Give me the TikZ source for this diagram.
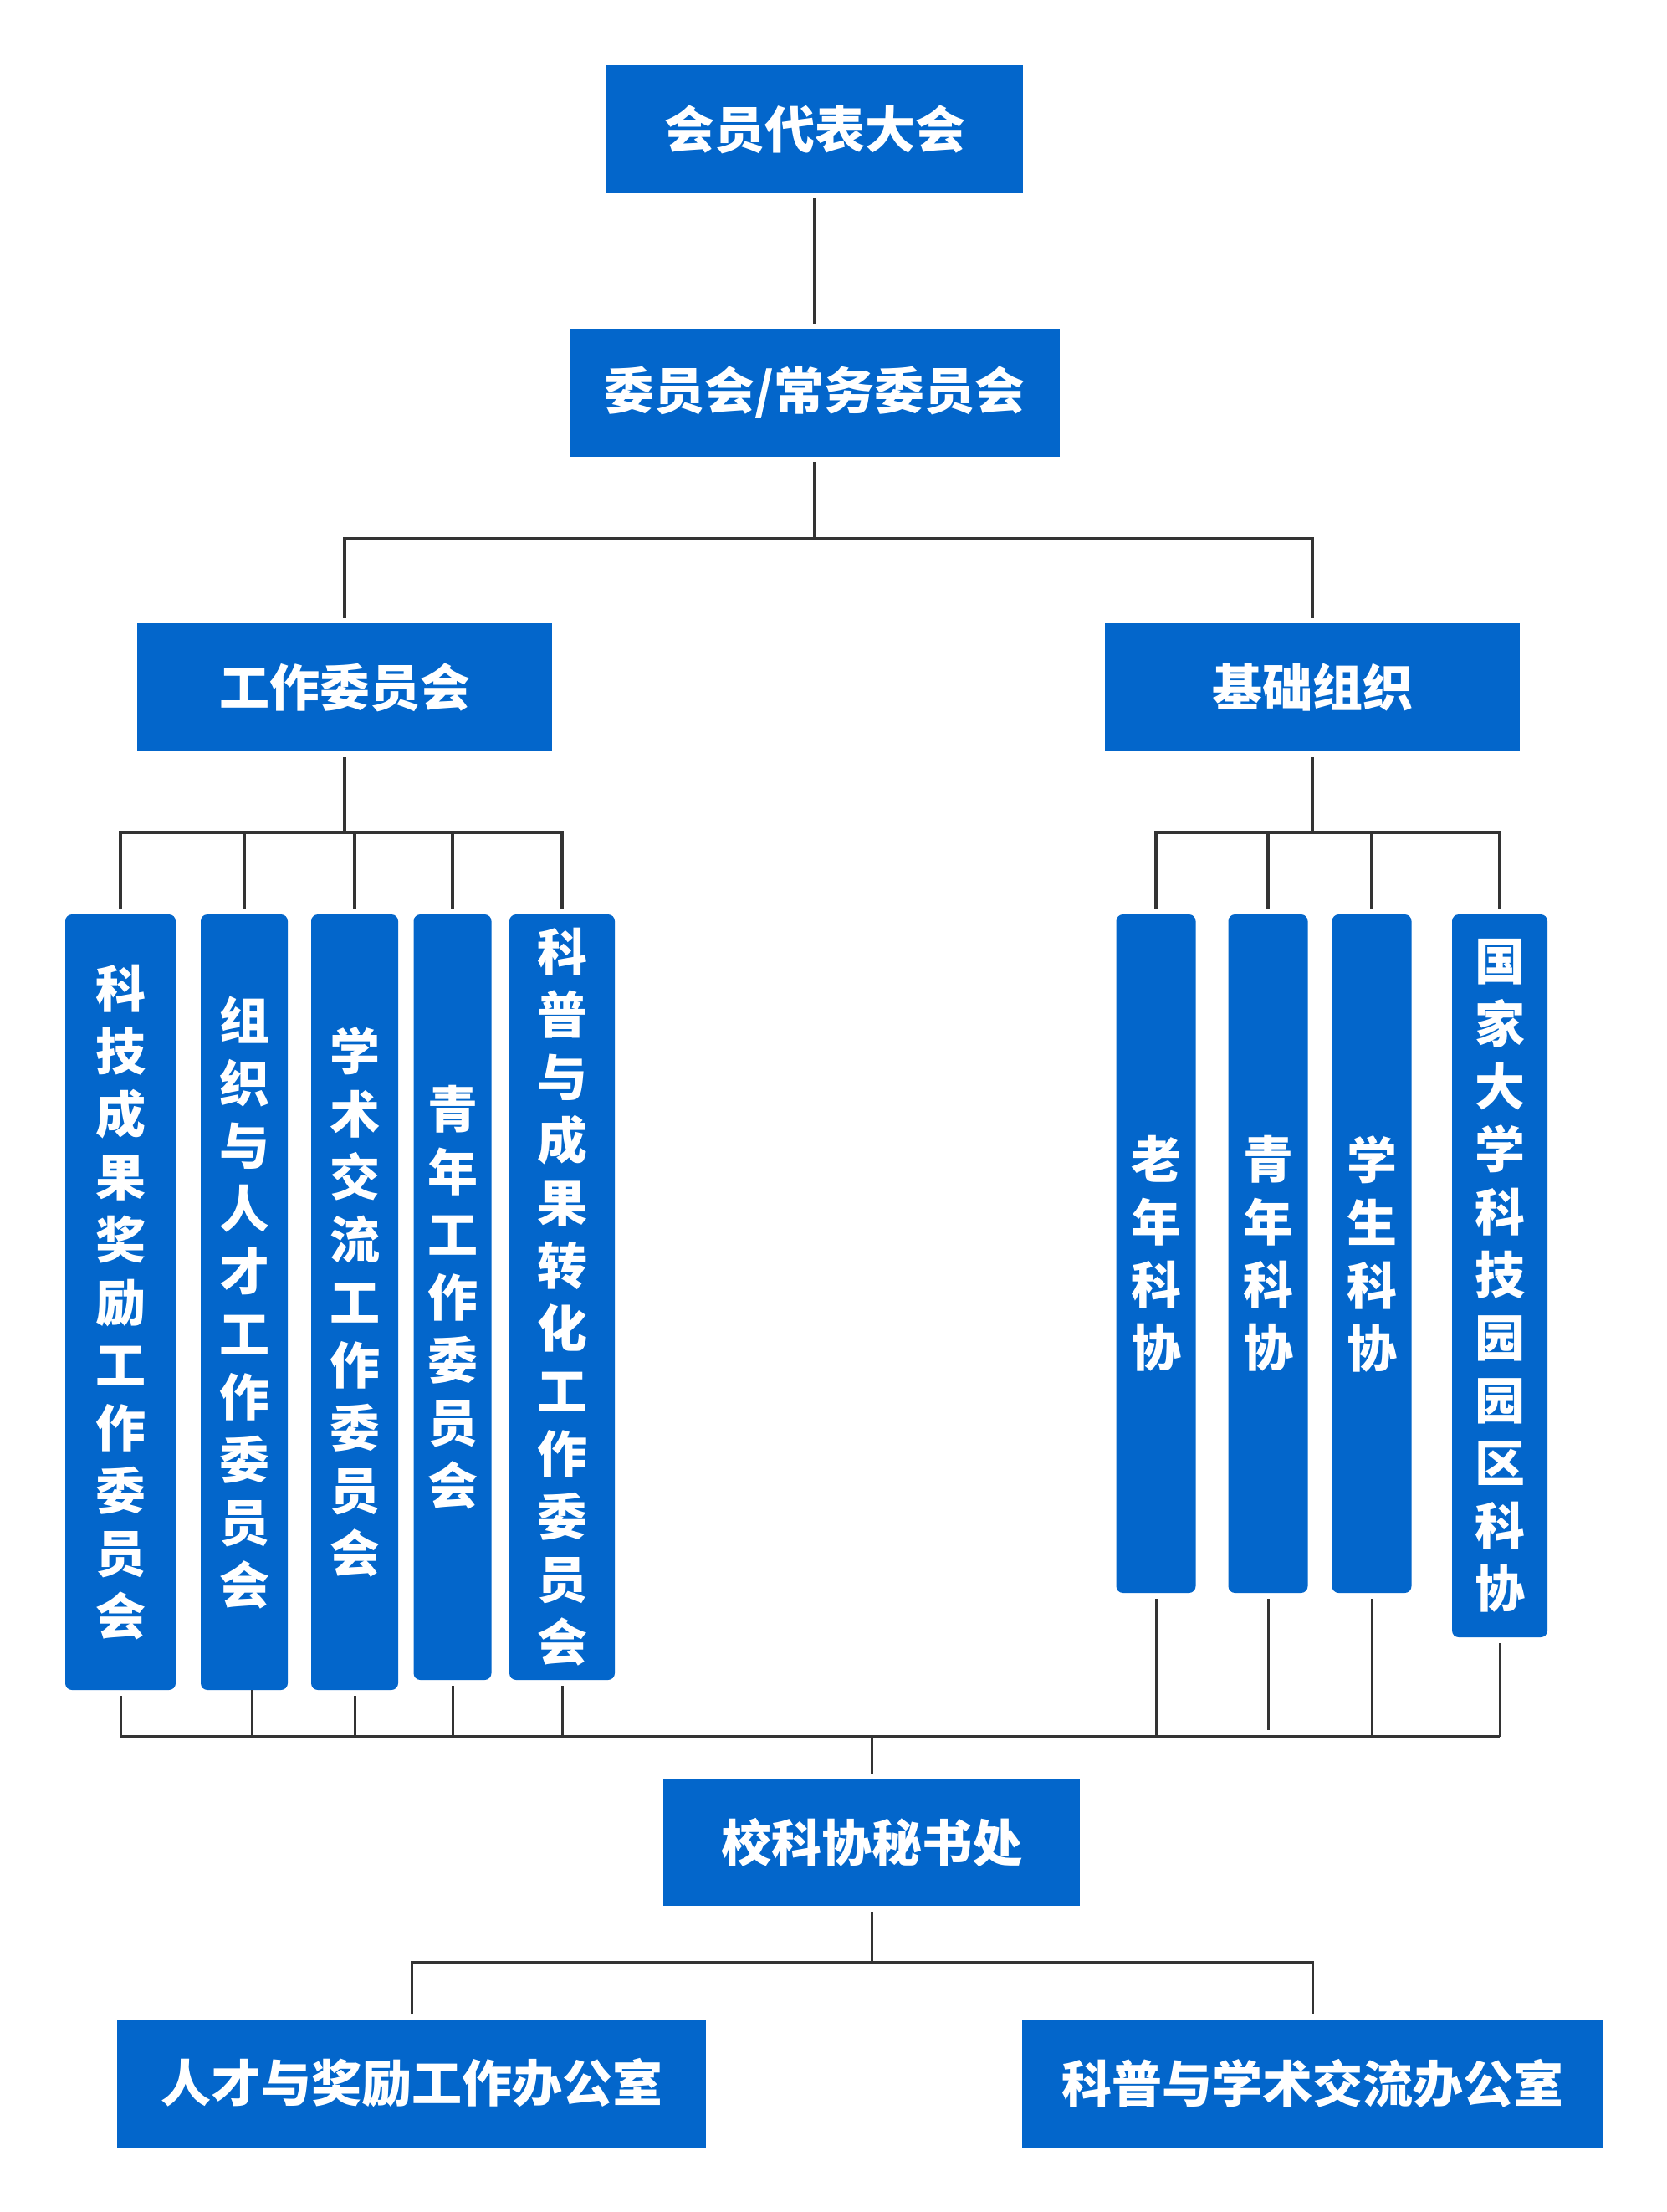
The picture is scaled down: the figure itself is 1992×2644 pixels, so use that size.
\documentclass[tikz,border=0pt]{standalone}
\usepackage{fontspec}
\newfontfamily\cjk{Noto Sans CJK SC}
\definecolor{boxblue}{RGB}{3,102,203}
\definecolor{linegray}{RGB}{51,51,51}
\tikzset{
  hbox/.style={fill=boxblue, text=white, inner sep=0pt, font=\cjk\bfseries\fontsize{30}{36}\selectfont},
  vbox/.style={fill=boxblue, text=white, inner sep=0pt, rounded corners=4pt, align=center, font=\cjk\bfseries\fontsize{30}{37.5}\selectfont},
  sz/.style 2 args={minimum width=#1*0.5pt, minimum height=#2*0.5pt},
  conn/.style={draw=linegray, line width=2.2pt},
  busline/.style={draw=linegray, line width=2pt},
  connthin/.style={draw=linegray, line width=1.5pt},
  gap/.style={shorten <=3pt, shorten >=3pt},
}
\begin{document}
\begin{tikzpicture}[x=0.5pt,y=-0.5pt]
\useasboundingbox[fill=white] (0,0) rectangle (1992,2644);
% top level
\node[hbox, sz={498}{153}] (a) at (974,154.5) {会员代表大会};
\node[hbox, sz={586}{153}] (b) at (974,469.5) {委员会/常务委员会};
\node[hbox, sz={496}{153}] (c) at (412,821.5) {工作委员会};
\node[hbox, sz={496}{153}] (d) at (1569,821.5) {基础组织};
% left vertical boxes
\node[vbox, sz={132}{927}] (w1) at (144,1556.5) {科\\技\\成\\果\\奖\\励\\工\\作\\委\\员\\会};
\node[vbox, sz={104}{927}] (w2) at (292,1556.5) {组\\织\\与\\人\\才\\工\\作\\委\\员\\会};
\node[vbox, sz={104}{927}] (w3) at (424,1556.5) {学\\术\\交\\流\\工\\作\\委\\员\\会};
\node[vbox, sz={93}{915}] (w4) at (541,1550.5) {青\\年\\工\\作\\委\\员\\会};
\node[vbox, sz={126}{915}] (w5) at (672,1550.5) {科\\普\\与\\成\\果\\转\\化\\工\\作\\委\\员\\会};
% right vertical boxes
\node[vbox, sz={95}{811}] (j1) at (1382,1498.5) {老\\年\\科\\协};
\node[vbox, sz={95}{811}] (j2) at (1516,1498.5) {青\\年\\科\\协};
\node[vbox, sz={95}{811}] (j3) at (1640,1498.5) {学\\生\\科\\协};
\node[vbox, sz={114}{864}] (j4) at (1793,1525) {国\\家\\大\\学\\科\\技\\园\\园\\区\\科\\协};
% lower boxes
\node[hbox, sz={498}{152}] (s) at (1042,2202) {校科协秘书处};
\node[hbox, sz={704}{153}] (e) at (492,2490) {人才与奖励工作办公室};
\node[hbox, sz={694}{153}] (f) at (1569,2490) {科普与学术交流办公室};
% bus coordinates
\coordinate (t1) at (974,644);
\coordinate (t2) at (412,995);
\coordinate (t3) at (1569,995);
\coordinate (t4) at (1042,2076);
\coordinate (t5) at (1042,2345);
% upper connectors
\draw[conn, gap] (a) -- (b);
\draw[conn, shorten <=3pt] (b.south) -- (t1);
\draw[conn, gap] (c.north) |- (t1) -| (d.north);
\draw[conn, shorten <=3.5pt] (c.south) -- (t2);
\draw[conn, gap] (w1.north) |- (t2) -| (w5.north);
\foreach \n in {w2,w3,w4} \draw[conn, shorten >=3.5pt] (\n.north |- t2) -- (\n.north);
\draw[conn, shorten <=3.5pt] (d.south) -- (t3);
\draw[conn, gap] (j1.north) |- (t3) -| (j4.north);
\foreach \n in {j2,j3} \draw[conn, shorten >=3.5pt] (\n.north |- t3) -- (\n.north);
% lower bus
\draw[busline] (w1.south |- t4) -- (j4.south |- t4);
\foreach \n in {w1,w3,w4,w5,j1,j3,j4} \draw[connthin, shorten <=3.5pt] (\n.south) -- (\n.south |- t4);
\draw[connthin] ([xshift=4.5pt]w2.south) -- ([xshift=4.5pt]w2.south |- t4);
\draw[connthin, shorten <=3.5pt, shorten >=4pt] (j2.south) -- (j2.south |- t4);
\draw[connthin, shorten >=3pt] (t4) -- (s.north);
\draw[connthin, shorten <=3.5pt] (s.south) -- (t5);
\draw[connthin, gap] (e.north) |- (t5) -| (f.north);
\end{tikzpicture}
\end{document}
